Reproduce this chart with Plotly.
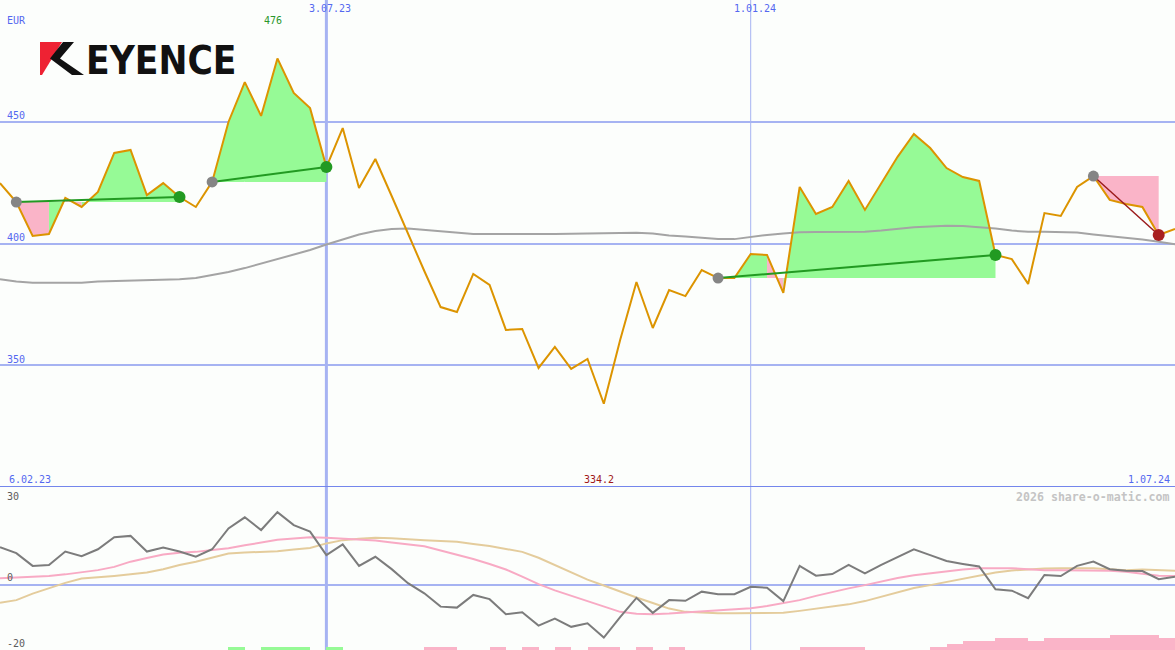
import plotly.graph_objects as go
import pandas as pd

# ---------------- data ----------------
start_date = "2023-02-13"
n_weeks = 73
dates = pd.date_range(start_date, periods=n_weeks, freq="7D")

price = [424.8, 417.0, 403.1, 403.9, 418.7, 415.0, 421.2, 437.2, 438.4, 419.9,
         424.8, 419.1, 415.0, 425.3, 449.9, 466.3, 452.4, 476.0, 461.8, 455.6,
         431.4, 447.4, 422.8, 434.7, 419.5, 403.9, 388.7, 373.9, 371.9, 387.5,
         383.0, 364.5, 364.9, 348.9, 357.5, 348.5, 352.6, 334.2, 360.4, 384.2,
         365.3, 380.9, 378.4, 389.1, 385.8, 385.8, 395.7, 395.3, 379.7, 423.2,
         412.1, 415.0, 425.7, 413.8, 424.8, 435.6, 445.0, 439.2, 431.0, 427.3,
         425.7, 395.3, 393.6, 383.4, 412.5, 411.3, 423.2, 427.7, 417.9, 416.2,
         415.0, 403.5, 406.0]

moving_avg = [385.3, 384.4, 383.9, 383.9, 383.9, 383.9, 384.4, 384.6, 384.7, 384.8,
              385.0, 385.3, 385.8, 386.9, 388.3, 389.9, 391.8, 393.6, 395.3, 397.3,
              399.6, 401.6, 403.7, 405.1, 406.0, 406.2, 405.7, 404.9, 404.5, 403.9,
              403.9, 403.8, 403.8, 403.9, 403.9, 404.0, 404.1, 404.2, 404.3, 404.4,
              404.1, 403.3, 402.9, 402.4, 401.8, 401.8, 402.8, 403.5, 404.1, 404.6,
              404.7, 404.8, 404.8, 404.8, 405.3, 406.0, 406.7, 407.0, 407.3, 407.2,
              406.7, 406.2, 405.3, 404.8, 404.8, 404.8, 404.5, 403.7, 403.0, 402.5,
              401.6, 400.7, 399.7]

momentum = [11.5, 9.7, 5.8, 6.1, 10.2, 8.8, 10.9, 14.6, 15.0, 10.2,
            11.4, 10.2, 8.6, 10.9, 17.3, 20.7, 16.8, 22.3, 18.3, 16.3,
            9.1, 12.4, 5.8, 8.6, 4.8, 0.5, -2.6, -6.7, -7.0, -3.1,
            -4.4, -9.0, -8.4, -12.5, -10.4, -12.9, -11.8, -16.2, -9.9, -4.0,
            -8.6, -4.7, -4.9, -2.1, -2.9, -2.9, -0.6, -0.9, -5.0, 5.8,
            2.8, 3.3, 6.1, 3.5, 6.1, 8.5, 10.9, 9.1, 7.3, 6.4,
            5.6, -1.4, -1.8, -4.1, 3.0, 2.7, 5.8, 7.1, 4.8, 4.3,
            4.2, 1.7, 2.5]

signal_fast = [2.0, 2.2, 2.4, 2.7, 3.2, 3.8, 4.5, 5.5, 7.1, 8.2,
               9.3, 9.8, 10.1, 10.7, 11.2, 12.1, 13.0, 13.8, 14.2, 14.6,
               14.4, 14.1, 13.9, 13.6, 13.0, 12.5, 11.8, 10.5, 9.3, 7.9,
               6.4, 4.7, 2.5, 0.2, -1.7, -3.3, -5.0, -6.7, -8.3, -8.9,
               -9.0, -8.8, -8.5, -8.2, -7.9, -7.5, -7.2, -6.5, -5.7, -4.7,
               -3.4, -2.2, -1.1, -0.1, 1.0, 2.1, 2.9, 3.5, 4.2, 4.7,
               5.1, 5.1, 5.1, 4.8, 4.5, 4.5, 4.5, 4.5, 4.3, 4.0,
               3.5, 2.8, 2.7]

signal_slow = [-5.5, -4.7, -2.7, -1.0, 0.6, 1.9, 2.2, 2.7, 3.2, 3.8,
               4.8, 6.1, 7.1, 8.4, 9.6, 9.9, 10.1, 10.3, 10.8, 11.3,
               12.7, 13.7, 14.1, 14.4, 14.3, 14.1, 13.7, 13.4, 13.2, 12.5,
               11.9, 11.0, 10.1, 8.3, 6.1, 3.9, 1.6, -0.2, -2.1, -3.9,
               -5.6, -7.3, -8.3, -8.6, -8.7, -8.7, -8.7, -8.7, -8.6, -8.0,
               -7.4, -6.8, -6.0, -5.0, -3.7, -2.4, -1.0, -0.1, 0.9, 1.9,
               3.0, 3.8, 4.4, 4.8, 5.0, 5.1, 5.1, 5.1, 4.8, 4.5,
               4.7, 4.5, 4.3]

# weekly strength bars: + green, - pink (level count)
strength = [0, 0, 0, 0, 0, 0, 0, 0, 0, 0,
            0, 0, 0, 0, 1, 0, 1, 1, 1, 0,
            1, 0, 0, 0, 0, 0, -1, -1, 0, 0,
            -1, 0, -1, 0, -1, 0, -1, -1, 0, -1,
            0, -1, 0, 0, 0, 0, 0, 0, 0, -1,
            -1, -1, -1, 0, 0, 0, 0, -1, -2, -3,
            -3, -4, -4, -3, -4, -4, -4, -4, -5, -5,
            -5, -4, -4]

# trade signals: (entry week index, exit week index)
signals = [(1, 11), (13, 20), (44, 61), (67, 71)]

main_ticks = [350, 400, 450]
lower_ticks = [30, 0, -20]
month_lines = ["2023-07-03", "2024-01-01"]
month_labels = ["3.07.23", "1.01.24"]
month_line_widths = [3, 1]
start_label = "6.02.23"
end_label = "1.07.24"
currency = "EUR"
watermark = "2026 share-o-matic.com"

# ---------------- styling ----------------
W, H = 1175, 650
SPLIT = 487  # px where main panel ends
BG = "#fcfefc"
GRID = "#a6b3f2"
SEP = "#7486ec"
LBL = "#5468f0"
FONT = "DejaVu Sans Mono"
GREEN_FILL = "#96fa96"
PINK_FILL = "#fab4c8"
PRICE_C = "#dc9400"

main_dom = [1 - SPLIT / H, 1]
low_dom = [0, 1 - SPLIT / H]


def px(xp, yp):
    return xp / W, 1 - yp / H


fig = go.Figure()

# ---- signal fill polygons ----
gx, gy, rx, ry = [], [], [], []
for a, b in signals:
    base = price[a]
    for i in range(a, b):
        poly_x = [dates[i], dates[i + 1], dates[i + 1], dates[i], dates[i], None]
        poly_y = [price[i], price[i + 1], base, base, price[i], None]
        if price[i + 1] >= base:
            gx += poly_x; gy += poly_y
        else:
            rx += poly_x; ry += poly_y
fig.add_trace(go.Scatter(x=gx, y=gy, mode="none", fill="toself", fillcolor=GREEN_FILL,
                         hoverinfo="skip", showlegend=False))
fig.add_trace(go.Scatter(x=rx, y=ry, mode="none", fill="toself", fillcolor=PINK_FILL,
                         hoverinfo="skip", showlegend=False))

# ---- moving average & price ----
fig.add_trace(go.Scatter(x=dates, y=moving_avg, mode="lines",
                         line=dict(color="#a4a4a4", width=2), showlegend=False))
fig.add_trace(go.Scatter(x=dates, y=price, mode="lines",
                         line=dict(color=PRICE_C, width=2), showlegend=False))

# ---- signal lines & markers ----
for a, b in signals:
    win = price[b] >= price[a]
    col = "#229a22" if win else "#9c1c1c"
    fig.add_trace(go.Scatter(x=[dates[a], dates[b]], y=[price[a], price[b]], mode="lines",
                             line=dict(color=col, width=2 if win else 1.5), showlegend=False))
    fig.add_trace(go.Scatter(x=[dates[a]], y=[price[a]], mode="markers",
                             marker=dict(color="#858585", size=11), showlegend=False))
    fig.add_trace(go.Scatter(x=[dates[b]], y=[price[b]], mode="markers",
                             marker=dict(color="#229a22" if win else "#a82020", size=12),
                             showlegend=False))

# ---- lower panel ----
bx = [d + pd.Timedelta(hours=84) for d in dates]
fig.add_trace(go.Bar(x=bx, y=[abs(v) for v in strength], yaxis="y3",
                     width=7 * 86400000,
                     marker=dict(color=[GREEN_FILL if v > 0 else PINK_FILL for v in strength],
                                 line=dict(width=0)),
                     showlegend=False))
fig.add_trace(go.Scatter(x=dates, y=signal_slow, yaxis="y2", mode="lines",
                         line=dict(color="#e4cc9c", width=2), showlegend=False))
fig.add_trace(go.Scatter(x=dates, y=signal_fast, yaxis="y2", mode="lines",
                         line=dict(color="#f8aac4", width=2), showlegend=False))
fig.add_trace(go.Scatter(x=dates, y=momentum, yaxis="y2", mode="lines",
                         line=dict(color="#7c7c7c", width=2), showlegend=False))

# ---- shapes: vertical month lines, separator, logo ----
shapes = []
for d, w in zip(month_lines, month_line_widths):
    shapes.append(dict(type="line", xref="x", yref="paper", x0=d, x1=d, y0=0, y1=1,
                       line=dict(color=GRID, width=w), layer="below"))
shapes.append(dict(type="line", xref="paper", yref="y", x0=0, x1=1, y0=300, y1=300,
                   line=dict(color=SEP, width=2), layer="below"))


def path(points):
    s = "M " + " L ".join(f"{px(x, y)[0]:.5f},{px(x, y)[1]:.5f}" for x, y in points) + " Z"
    return s


shapes.append(dict(type="path", xref="paper", yref="paper",
                   path=path([(40, 42), (62, 42), (42, 75), (40, 75)]),
                   fillcolor="#ee2233", line=dict(width=0), layer="above"))
shapes.append(dict(type="path", xref="paper", yref="paper",
                   path=path([(63, 42), (74, 42), (60, 58.5), (84, 75), (72, 75), (50, 58.5)]),
                   fillcolor="#111111", line=dict(width=0), layer="above"))

# ---- annotations ----
ann = []
ann.append(dict(text=currency, xref="paper", yref="paper", x=5 / W, y=1 - 21 / H,
                xanchor="left", yanchor="middle", showarrow=False,
                font=dict(family=FONT, size=10, color=LBL)))
for v in main_ticks:
    ann.append(dict(text=str(v), xref="paper", yref="y", x=5 / W, y=v, yshift=6,
                    xanchor="left", yanchor="middle", showarrow=False,
                    font=dict(family=FONT, size=10, color=LBL)))
for v in lower_ticks:
    ann.append(dict(text=str(v), xref="paper", yref="y2", x=5 / W, y=v,
                    yshift=-9 if v == max(lower_ticks) else 7,
                    xanchor="left", yanchor="middle", showarrow=False,
                    font=dict(family=FONT, size=10, color="#5c5c5c")))
for d, t in zip(month_lines, month_labels):
    ann.append(dict(text=t, xref="x", yref="paper", x=d, y=1 - 9 / H, xshift=4,
                    xanchor="center", yanchor="middle", showarrow=False,
                    font=dict(family=FONT, size=10, color=LBL)))
ann.append(dict(text=start_label, xref="paper", yref="y", x=7 / W, y=300, yshift=8,
                xanchor="left", yanchor="middle", showarrow=False,
                font=dict(family=FONT, size=10, color=LBL)))
ann.append(dict(text=end_label, xref="paper", yref="y", x=1172 / W, y=300, yshift=8,
                xanchor="right", yanchor="middle", showarrow=False,
                font=dict(family=FONT, size=10, color=LBL)))
imax = price.index(max(price))
imin = price.index(min(price))
ann.append(dict(text=f"{max(price):.0f}", xref="x", yref="paper", x=dates[imax], y=1 - 21 / H,
                xshift=-4, xanchor="center", yanchor="middle", showarrow=False,
                font=dict(family=FONT, size=10, color="#2a962a")))
ann.append(dict(text=f"{min(price):g}", xref="x", yref="y", x=dates[imin], y=300,
                xshift=-5, yshift=8, xanchor="center", yanchor="middle", showarrow=False,
                font=dict(family=FONT, size=10, color="#a01818")))
ann.append(dict(text="<b>" + watermark + "</b>", xref="paper", yref="paper",
                x=1172 / W, y=1 - 496.5 / H, xanchor="right", yanchor="middle",
                showarrow=False, font=dict(family=FONT, size=11.6, color="#c4c4c4")))
ann.append(dict(text="<b>EYENCE</b>", xref="paper", yref="paper", x=84 / W, y=1 - 60 / H,
                xanchor="left", yanchor="middle", showarrow=False,
                font=dict(family="Liberation Sans Narrow, DejaVu Sans Condensed, Liberation Sans",
                          size=38.5, color="#111111")))

fig.update_layout(
    width=W, height=H,
    margin=dict(l=0, r=0, t=0, b=0),
    paper_bgcolor=BG, plot_bgcolor=BG,
    showlegend=False,
    bargap=0,
    shapes=shapes,
    annotations=ann,
    xaxis=dict(type="date", range=[dates[0], dates[-1]], showgrid=False, zeroline=False,
               showticklabels=False, ticks="", showline=False),
    yaxis=dict(domain=main_dom, range=[300, 500], tickvals=main_ticks, showticklabels=False,
               gridcolor=GRID, gridwidth=2, zeroline=False, ticks="", showline=False),
    yaxis2=dict(domain=low_dom, range=[-20, 30], tickvals=[0], showticklabels=False,
                gridcolor=GRID, gridwidth=2, zeroline=False, ticks="", showline=False,
                anchor="x"),
    yaxis3=dict(domain=low_dom, overlaying="y2", range=[0, (H - SPLIT) / 3],
                visible=False, showgrid=False, anchor="x"),
)

fig.write_html("out.html", config={"displayModeBar": False},
               post_script="document.body.style.margin='0';")
